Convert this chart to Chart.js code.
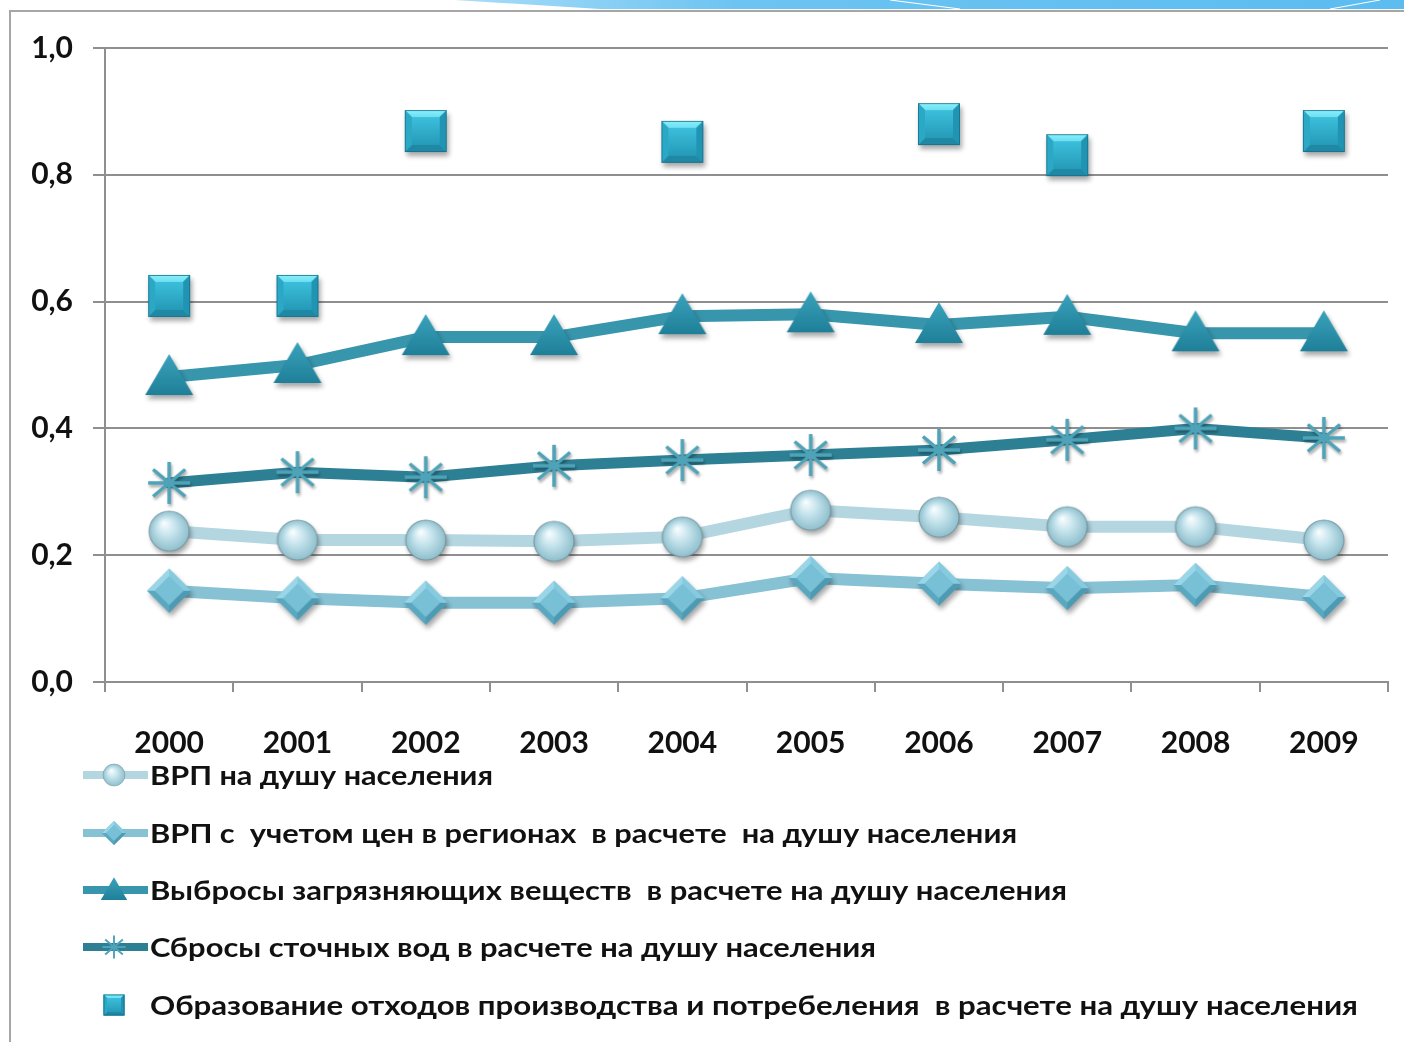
<!DOCTYPE html>
<html>
<head>
<meta charset="utf-8">
<script src="https://cdn.jsdelivr.net/npm/chart.js@4.4.1/dist/chart.umd.min.js"></script>
<style>
  html, body { margin:0; padding:0; background:#fff; width:1404px; height:1042px; overflow:hidden; }
  #frame { position:absolute; left:9px; top:10px; width:1400px; height:1040px; border-left:2px solid #a6a6a6; border-top:2px solid #a6a6a6; }
  #swoosh { position:absolute; left:0; top:0; }
  #wrap { position:absolute; left:0; top:0; width:1404px; height:760px; }
  #legend { position:absolute; left:0; top:0; width:1404px; height:1042px; pointer-events:none; }
  .item { position:absolute; left:0; height:40px; }
  .item canvas { position:absolute; left:78px; top:0; }
  .item span { position:absolute; left:150px; top:3px; white-space:pre; font-family:Lato, "Open Sans", sans-serif; font-weight:bold; font-size:27px; line-height:34px; color:#111; transform-origin:0 50%; }
</style>
</head>
<body>
<svg id="swoosh" width="1404" height="12">
  <defs>
    <linearGradient id="sg" x1="0" x2="1" y1="0" y2="0">
      <stop offset="0" stop-color="#a8dcf8"/>
      <stop offset="0.3" stop-color="#6cc4f2"/>
      <stop offset="1" stop-color="#5cbcf0"/>
    </linearGradient>
  </defs>
  <polygon points="455,0 1404,0 1404,9 600,9" fill="url(#sg)"/>
  <polyline points="890,0 960,9" stroke="#fff" stroke-width="1" fill="none"/>
  <polyline points="1330,9 1380,0" stroke="#fff" stroke-width="1" fill="none"/>
</svg>
<div id="frame"></div>
<div id="wrap"><canvas id="c" width="1404" height="760"></canvas></div>
<div id="legend"></div>
<script>
// ---- data ----
const years = ['2000','2001','2002','2003','2004','2005','2006','2007','2008','2009'];
const grpPerCapita      = [0.238, 0.224, 0.224, 0.222, 0.229, 0.271, 0.260, 0.245, 0.245, 0.224];
const grpPriceAdjusted  = [0.144, 0.132, 0.125, 0.125, 0.132, 0.164, 0.155, 0.148, 0.153, 0.134];
const emissions         = [0.481, 0.500, 0.544, 0.544, 0.577, 0.580, 0.563, 0.576, 0.550, 0.550];
const wastewater        = [0.314, 0.331, 0.323, 0.341, 0.350, 0.358, 0.366, 0.382, 0.400, 0.385];
const wasteGeneration   = [0.609, 0.609, 0.869, null, 0.852, null, 0.880, 0.831, null, 0.869];
const seriesNames = [
  'ВРП на душу населения',
  'ВРП с  учетом цен в регионах  в расчете  на душу населения',
  'Выбросы загрязняющих веществ  в расчете на душу населения',
  'Сбросы сточных вод в расчете на душу населения',
  'Образование отходов производства и потребеления  в расчете на душу населения'
];
const yTicks = [0, 0.2, 0.4, 0.6, 0.8, 1.0];

// ---- marker factories ----
function newCanvas(w, h) { const c = document.createElement('canvas'); c.width = w; c.height = h; return c; }
function shadow(g, on, s) {
  if (on) { g.shadowColor = 'rgba(0,0,0,0.35)'; g.shadowBlur = 5*s; g.shadowOffsetX = 2*s; g.shadowOffsetY = 4*s; }
  else { g.shadowColor = 'transparent'; g.shadowBlur = 0; g.shadowOffsetX = 0; g.shadowOffsetY = 0; }
}
function drawMarker(g, type, cx, cy, s, withShadow) {
  g.save();
  if (type === 'square') {
    const h = 21*s;
    shadow(g, withShadow, s);
    g.fillStyle = '#2299b8';
    g.fillRect(cx-h, cy-h, 2*h, 2*h);
    shadow(g, false, s);
    const b = 7*s;
    let gr = g.createLinearGradient(0, cy-h, 0, cy-h+b*2);
    gr.addColorStop(0, '#8af0fc'); gr.addColorStop(1, '#50d0e8');
    g.fillStyle = gr;
    g.beginPath(); g.moveTo(cx-h, cy-h); g.lineTo(cx+h, cy-h); g.lineTo(cx+h-b, cy-h+b); g.lineTo(cx-h+b, cy-h+b); g.closePath(); g.fill();
    g.fillStyle = '#1f88a4';
    g.beginPath(); g.moveTo(cx-h, cy+h); g.lineTo(cx+h, cy+h); g.lineTo(cx+h-b, cy+h-b); g.lineTo(cx-h+b, cy+h-b); g.closePath(); g.fill();
    g.fillStyle = '#2ba8c6';
    g.beginPath(); g.moveTo(cx-h, cy-h); g.lineTo(cx-h+b, cy-h+b); g.lineTo(cx-h+b, cy+h-b); g.lineTo(cx-h, cy+h); g.closePath(); g.fill();
    g.fillStyle = '#2094b2';
    g.beginPath(); g.moveTo(cx+h, cy-h); g.lineTo(cx+h-b, cy-h+b); g.lineTo(cx+h-b, cy+h-b); g.lineTo(cx+h, cy+h); g.closePath(); g.fill();
    gr = g.createLinearGradient(0, cy-h+b, 0, cy+h-b);
    gr.addColorStop(0, '#3cbfdb'); gr.addColorStop(1, '#259bb8');
    g.fillStyle = gr;
    g.fillRect(cx-h+b, cy-h+b, 2*(h-b), 2*(h-b));
    g.strokeStyle = 'rgba(20,110,135,0.8)'; g.lineWidth = 1;
    g.strokeRect(cx-h+0.5, cy-h+0.5, 2*h-1, 2*h-1);
  } else if (type === 'triangle') {
    shadow(g, withShadow, s);
    const gr = g.createLinearGradient(0, cy-22*s, 0, cy+18*s);
    gr.addColorStop(0, '#3aa2bc'); gr.addColorStop(1, '#1f7f98');
    g.fillStyle = gr;
    g.beginPath(); g.moveTo(cx, cy-23*s); g.lineTo(cx+24*s, cy+18*s); g.lineTo(cx-24*s, cy+18*s); g.closePath(); g.fill();
  } else if (type === 'star') {
    shadow(g, withShadow, s*0.6);
    g.strokeStyle = '#4ea3b8'; g.lineWidth = 3.5*s; g.lineCap = 'butt';
    const r = 21*s;
    const angs = [90, 0, 40, 140];
    g.beginPath();
    for (const a of angs) {
      const dx = Math.cos(a*Math.PI/180)*r, dy = Math.sin(a*Math.PI/180)*r;
      g.moveTo(cx-dx, cy-dy); g.lineTo(cx+dx, cy+dy);
    }
    g.stroke();
  } else if (type === 'circle') {
    shadow(g, withShadow, s);
    const r = 20*s;
    const gr = g.createRadialGradient(cx-5*s, cy-8*s, 1*s, cx, cy, r);
    gr.addColorStop(0, '#f6fcfe'); gr.addColorStop(0.45, '#c4e3ec'); gr.addColorStop(1, '#8fbfcd');
    g.fillStyle = gr;
    g.beginPath(); g.arc(cx, cy, r, 0, Math.PI*2); g.fill();
    shadow(g, false, s);
    g.strokeStyle = 'rgba(110,140,150,0.7)'; g.lineWidth = 1.2*s; g.stroke();
  } else if (type === 'diamond') {
    shadow(g, withShadow, s);
    const r = 22*s;
    g.fillStyle = '#6cb6ce';
    g.beginPath(); g.moveTo(cx, cy-r); g.lineTo(cx+r, cy); g.lineTo(cx, cy+r); g.lineTo(cx-r, cy); g.closePath(); g.fill();
    shadow(g, false, s);
    const b = 0.35;
    g.fillStyle = '#9ad6e8';
    g.beginPath(); g.moveTo(cx, cy-r); g.lineTo(cx-r, cy); g.lineTo(cx-r*(1-b), cy); g.lineTo(cx, cy-r*(1-b)); g.closePath(); g.fill();
    g.beginPath(); g.moveTo(cx, cy-r); g.lineTo(cx+r, cy); g.lineTo(cx+r*(1-b), cy); g.lineTo(cx, cy-r*(1-b)); g.closePath(); g.fillStyle = '#86cadf'; g.fill();
    g.fillStyle = '#5aa7c0';
    g.beginPath(); g.moveTo(cx, cy+r); g.lineTo(cx-r, cy); g.lineTo(cx-r*(1-b), cy); g.lineTo(cx, cy+r*(1-b)); g.closePath(); g.fill();
    g.fillStyle = '#4f9ab3';
    g.beginPath(); g.moveTo(cx, cy+r); g.lineTo(cx+r, cy); g.lineTo(cx+r*(1-b), cy); g.lineTo(cx, cy+r*(1-b)); g.closePath(); g.fill();
    g.fillStyle = '#78c0d6';
    const ir = r*(1-b);
    g.beginPath(); g.moveTo(cx, cy-ir); g.lineTo(cx+ir, cy); g.lineTo(cx, cy+ir); g.lineTo(cx-ir, cy); g.closePath(); g.fill();
  }
  g.restore();
}
function markerImage(type) {
  const c = newCanvas(70, 70);
  drawMarker(c.getContext('2d'), type, 35, 35, 1, true);
  return c;
}

const styles = [
  { name: seriesNames[0], data: grpPerCapita,     marker: 'circle',   line: '#b4d6e1', width: 12 },
  { name: seriesNames[1], data: grpPriceAdjusted, marker: 'diamond',  line: '#86c1d4', width: 12 },
  { name: seriesNames[2], data: emissions,        marker: 'triangle', line: '#3795ac', width: 12 },
  { name: seriesNames[3], data: wastewater,       marker: 'star',     line: '#2d7f94', width: 11 },
  { name: seriesNames[4], data: wasteGeneration,  marker: 'square',   line: null,      width: 0 }
];

const fontFamily = 'Lato, "Open Sans", sans-serif';
const gridColor = '#8f8f8f';

function build() {
  const datasets = styles.map((s, i) => ({
    label: s.name,
    data: s.data,
    borderColor: s.line || 'rgba(0,0,0,0)',
    backgroundColor: s.line || '#2299b8',
    borderWidth: s.width,
    showLine: !!s.line,
    spanGaps: false,
    tension: 0,
    borderJoinStyle: 'round',
    borderCapStyle: 'round',
    pointStyle: markerImage(s.marker),
    pointRadius: 20,
    clip: false,
    order: [3, 4, 2, 1, 0][i]
  }));

  new Chart(document.getElementById('c'), {
    type: 'line',
    data: { labels: years, datasets },
    options: {
      responsive: false,
      animation: false,
      devicePixelRatio: 1,
      layout: { autoPadding: false, padding: { top: 48, right: 16, left: 0, bottom: 0 } },
      plugins: { legend: { display: false }, tooltip: { enabled: false } },
      scales: {
        x: {
          type: 'category',
          offset: true,
          grid: { display: true, drawOnChartArea: false, drawTicks: true, tickLength: 10, color: gridColor, lineWidth: 2, offset: true },
          border: { display: true, color: gridColor, width: 2 },
          ticks: { font: { family: fontFamily, weight: 'bold', size: 30 }, color: '#111', padding: 33, maxRotation: 0, autoSkip: false },
          afterFit: (sc) => { sc.height = 78; sc.paddingLeft = 0; sc.paddingRight = 0; }
        },
        y: {
          min: 0, max: 1,
          afterBuildTicks: (sc) => { sc.ticks = yTicks.map(v => ({ value: v })); },
          grid: { color: gridColor, lineWidth: 2, tickLength: 12, drawTicks: true },
          border: { display: true, color: gridColor, width: 2 },
          ticks: {
            font: { family: fontFamily, weight: 'bold', size: 30 }, color: '#111', padding: 20,
            callback: (v) => Number(v).toFixed(1).replace('.', ',')
          },
          afterFit: (sc) => { sc.width = 105; }
        }
      }
    }
  });

  // legend (HTML, real text)
  const legend = document.getElementById('legend');
  const centers = [775, 833, 890, 947, 1005];
  const targets = [343, 867, 917, 726, 1208];
  styles.forEach((s, i) => {
    const item = document.createElement('div');
    item.className = 'item';
    item.style.top = (centers[i] - 20) + 'px';
    const ic = newCanvas(72, 40);
    const g = ic.getContext('2d');
    if (s.line) {
      g.strokeStyle = s.line; g.lineWidth = 8; g.lineCap = 'butt';
      g.beginPath(); g.moveTo(5, 20); g.lineTo(70, 20); g.stroke();
    }
    drawMarker(g, s.marker, 36, 20, s.marker === 'square' ? 0.5 : 0.55, false);
    item.appendChild(ic);
    const sp = document.createElement('span');
    sp.textContent = s.name;
    item.appendChild(sp);
    legend.appendChild(item);
    const w = sp.getBoundingClientRect().width;
    if (w > 0) sp.style.transform = 'scaleX(' + (targets[i] / w).toFixed(4) + ')';
  });
}

if (document.fonts && document.fonts.load) {
  Promise.all([document.fonts.load('bold 30px Lato'), document.fonts.load('bold 27px Lato')]).then(build, build);
} else { build(); }
</script>
</body>
</html>
